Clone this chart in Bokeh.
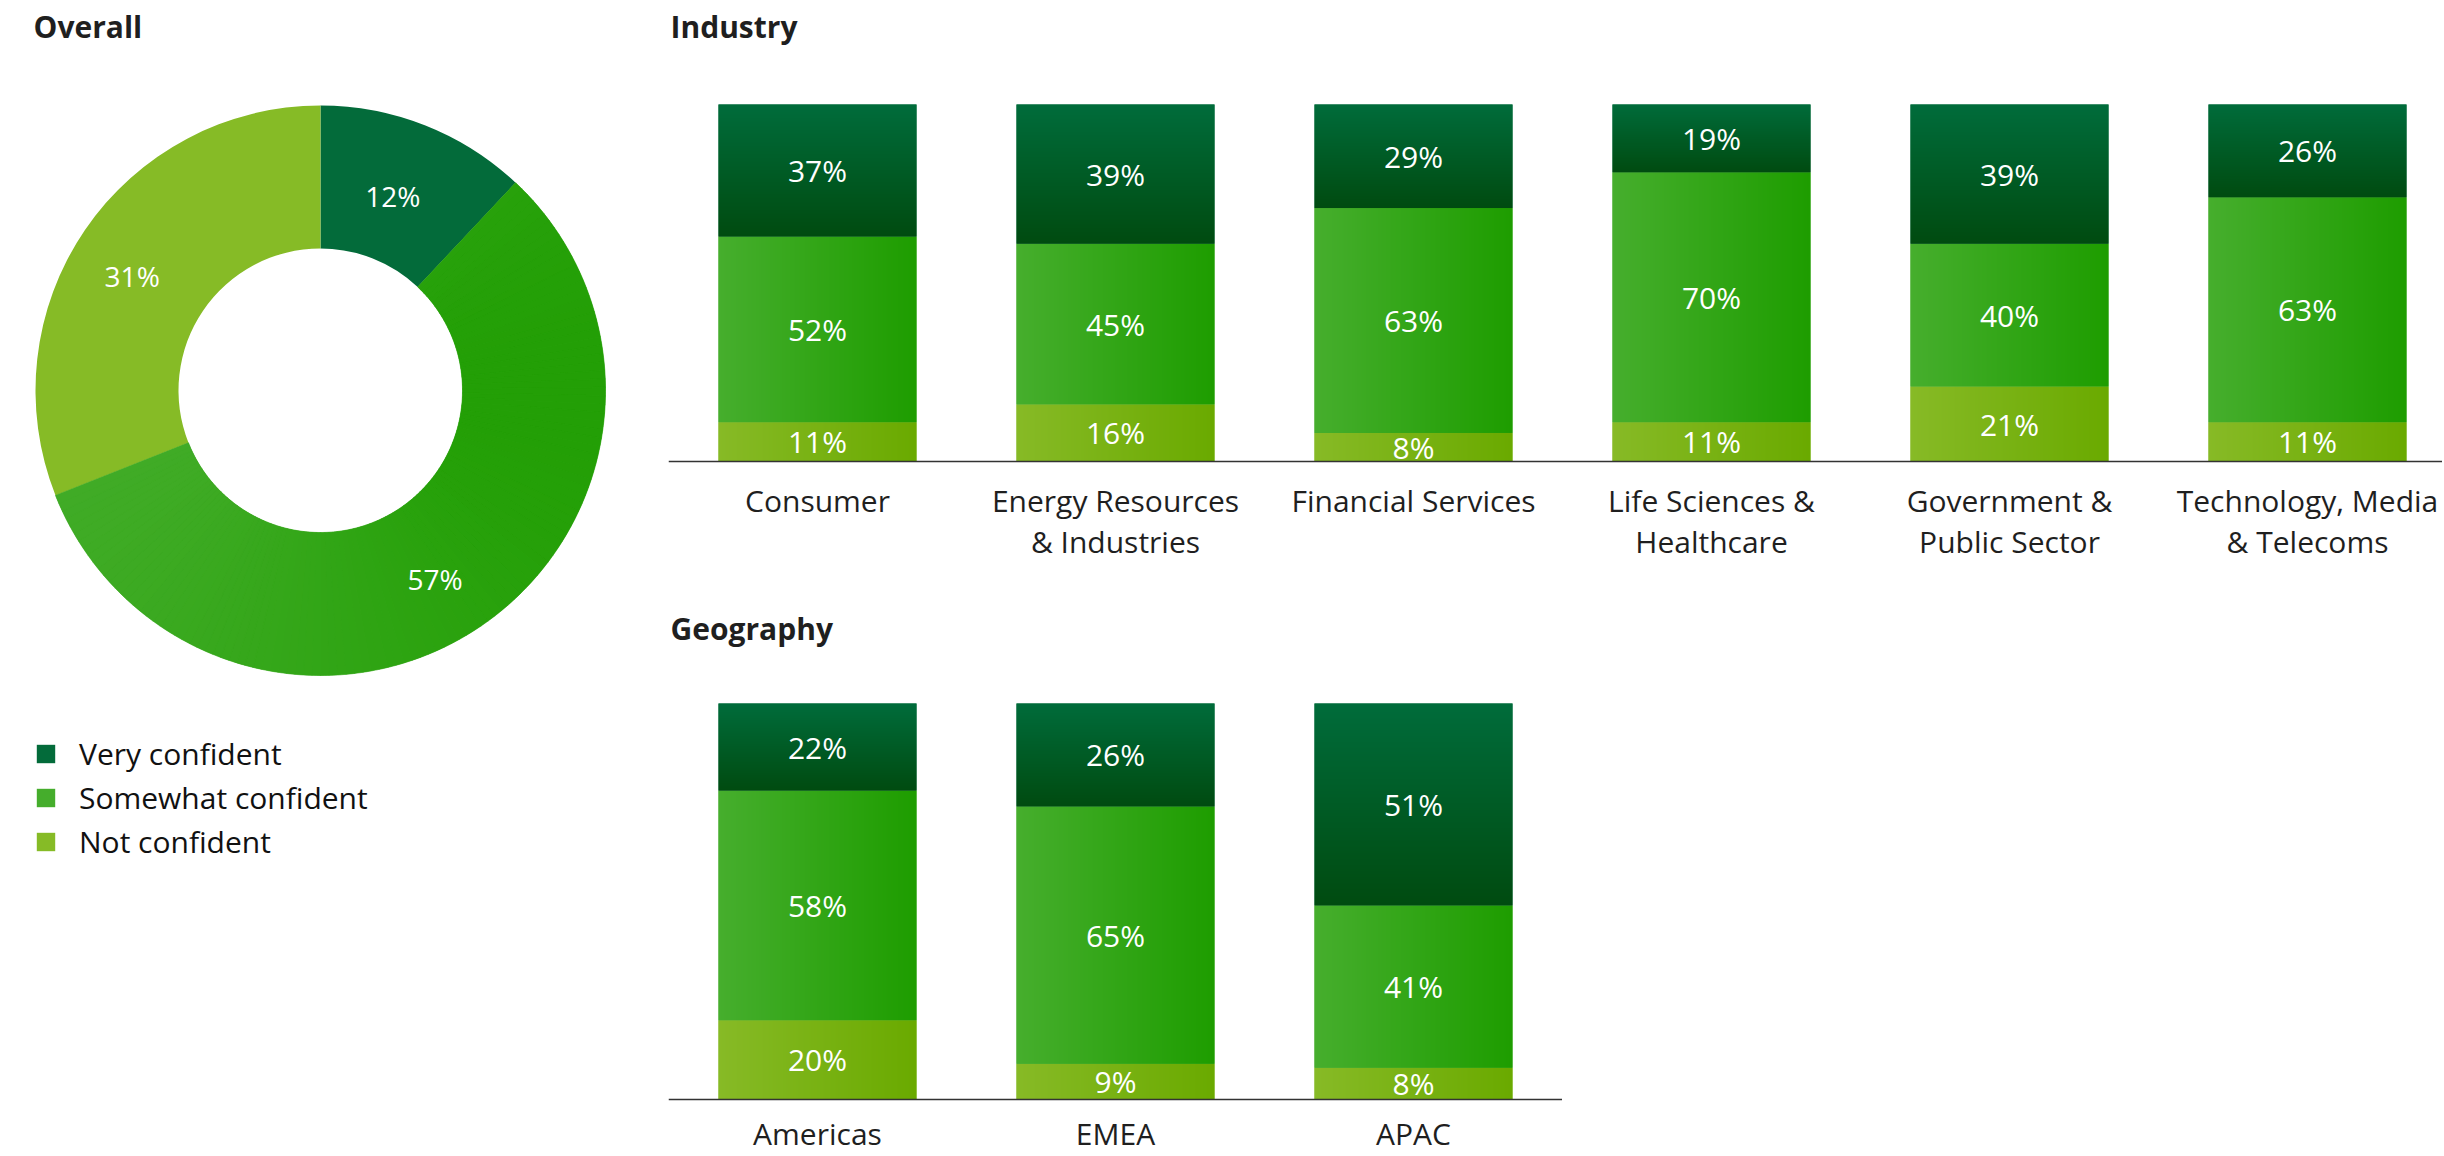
import numpy as np
from bokeh.plotting import figure
from bokeh.layouts import row, column
from bokeh.models import Range1d, Label, Span, Legend, LegendItem, ColumnDataSource
from bokeh.core.properties import value
from bokeh.embed import file_html
from bokeh.resources import INLINE

# ---------------- data ----------------
levels = ["Very confident", "Somewhat confident", "Not confident"]
overall = [12, 57, 31]

industries = ["Consumer", "Energy Resources\n& Industries", "Financial Services",
              "Life Sciences &\nHealthcare", "Government &\nPublic Sector",
              "Technology, Media\n& Telecoms"]
ind_very = [37, 39, 29, 19, 39, 26]
ind_some = [52, 45, 63, 70, 40, 63]
ind_not = [11, 16, 8, 11, 21, 11]

regions = ["Americas", "EMEA", "APAC"]
geo_very = [22, 26, 51]
geo_some = [58, 65, 41]
geo_not = [20, 9, 8]

# ---------------- style ----------------
FONT = "Open Sans"
LEVEL_COLORS = ["#036B3A", "#45AD2C", "#86BB26"]       # legend / base fills
GRAD_VERY = ((0, 108, 59), (0, 75, 16))               # top -> bottom
GRAD_SOME = ((70, 174, 45), (30, 157, 0))             # left -> right
GRAD_NOT = ((135, 186, 38), (106, 170, 0))            # left -> right
TXT = "#1f1f1f"
H_TOTAL = 1156
W_LEFT = 668
W_RIGHT = 1774
SLOT = 298.0
BAR_W = 198 / SLOT


def lerp(c0, c1, t):
    return tuple(int(round(a + (b - a) * t)) for a, b in zip(c0, c1))


def to_hex(c):
    return "#%02x%02x%02x" % c


def grad_image(c0, c1, n, vertical):
    t = np.linspace(0, 1, n)
    rgba = np.zeros((n, 4), dtype=np.uint8)
    for k in range(3):
        rgba[:, k] = np.round(c0[k] + (c1[k] - c0[k]) * t)
    rgba[:, 3] = 255
    img = rgba.view(dtype=np.uint32).reshape(n)
    return img.reshape((n, 1)) if vertical else img.reshape((1, n))


def base_fig(w, h, xr, yr):
    p = figure(width=w, height=h, x_range=xr, y_range=yr, output_backend="svg",
               toolbar_location=None, x_axis_location=None, y_axis_location=None,
               min_border=0)
    p.grid.visible = False
    p.outline_line_color = None
    p.background_fill_color = "white"
    return p


# ---------------- donut ----------------
cx_px, cy_px = 320, 390
R_OUT, R_IN = 285, 142
pL = base_fig(W_LEFT, H_TOTAL, Range1d(-cx_px, W_LEFT - cx_px),
              Range1d(-(H_TOTAL - cy_px), cy_px))
frac = np.array(overall) / 100.0
cum = np.concatenate([[0.0], np.cumsum(frac)])
start = np.pi / 2 - 2 * np.pi * cum[:-1]
end = np.pi / 2 - 2 * np.pi * cum[1:]
dsrc = ColumnDataSource(dict(start=start, end=end, color=LEVEL_COLORS, label=levels))
wedges = pL.annular_wedge(x=0, y=0, inner_radius=R_IN, outer_radius=R_OUT,
                          start_angle="start", end_angle="end", direction="clock",
                          fill_color="color", line_color=None, source=dsrc)
# horizontal gradient shading of the "somewhat" slice
K = 120
a = np.linspace(start[1], end[1], K + 1)
am = (a[:-1] + a[1:]) / 2
xm = (R_IN + R_OUT) / 2 * np.cos(am)
gcols = [to_hex(lerp(GRAD_SOME[0], GRAD_SOME[1], (x + R_OUT) / (2 * R_OUT))) for x in xm]
pL.annular_wedge(x=0, y=0, inner_radius=R_IN, outer_radius=R_OUT,
                 start_angle=a[:-1], end_angle=a[1:], direction="clock",
                 fill_color=gcols, line_color=gcols, line_width=0.6)
mid = (start + end) / 2
r_lab = 218
pL.text(x=r_lab * np.cos(mid), y=r_lab * np.sin(mid), text=[f"{v}%" for v in overall],
        x_offset=-8, y_offset=8,
        text_align="center", text_baseline="middle", text_color="white",
        text_font=value(FONT), text_font_size="28px")
pL.add_layout(Label(x=33, y=H_TOTAL - 26, x_units="screen", y_units="screen",
                    text="Overall", text_font=FONT, text_font_size="30px",
                    text_font_style="bold", text_baseline="middle", text_color=TXT))
legend = Legend(items=[LegendItem(label=lv, renderers=[wedges], index=i)
                       for i, lv in enumerate(levels)],
                location=(34, H_TOTAL - 862), glyph_width=23, glyph_height=23,
                label_text_font=FONT, label_text_font_size="30px",
                label_text_color="#111111", label_standoff=22, spacing=3,
                padding=0, margin=0, border_line_color=None,
                background_fill_alpha=0)
pL.add_layout(legend)


# ---------------- stacked bars ----------------
def bar_panel(cats, very, some, notc, width, height, title, top_px, base_px, fig_top,
              lab_off, title_y):
    n = len(cats)
    scale = (base_px - top_px) / 100.0
    y_top = 100 + (top_px - fig_top) / scale
    y_bot = -(fig_top + height - base_px) / scale
    p = base_fig(width, height, Range1d(-0.5, -0.5 + width / SLOT), Range1d(y_bot, y_top))
    x = list(range(n))
    src = ColumnDataSource(dict(x=x, notc=notc, some=some, very=very))
    p.vbar_stack(["notc", "some", "very"], x="x", width=BAR_W, source=src,
                 color=[LEVEL_COLORS[2], LEVEL_COLORS[1], LEVEL_COLORS[0]],
                 line_color=None)
    # gradient shading of each segment + value labels
    imgs, ix, iy, idw, idh = [], [], [], [], []
    lx, ly, lt = [], [], []
    for i in range(n):
        b = 0
        for v, g, vert in ((notc[i], GRAD_NOT, False), (some[i], GRAD_SOME, False),
                           (very[i], (GRAD_VERY[1], GRAD_VERY[0]), True)):
            imgs.append(grad_image(g[0], g[1], 256 if vert else 200, vert))
            ix.append(i - BAR_W / 2)
            iy.append(b)
            idw.append(BAR_W)
            idh.append(v)
            lx.append(i)
            ly.append(b + v / 2)
            lt.append(f"{v}%")
            b += v
    p.image_rgba(image=imgs, x=ix, y=iy, dw=idw, dh=idh)
    p.text(x=lx, y=ly, text=lt, text_align="center", text_baseline="middle",
           text_color="white", text_font=value(FONT), text_font_size="30px")
    p.add_layout(Span(location=0, dimension="width", line_color="#333333",
                      line_width=1.5))
    # category labels (possibly two lines)
    l1 = [c.split("\n")[0] for c in cats]
    l2 = [c.split("\n")[1] if "\n" in c else "" for c in cats]
    p.text(x=x, y=[0] * n, text=l1, y_offset=lab_off, text_align="center",
           text_baseline="middle", text_color=TXT, text_font=value(FONT),
           text_font_size="30px")
    if any(l2):
        p.text(x=x, y=[0] * n, text=l2, y_offset=lab_off + 41, text_align="center",
               text_baseline="middle", text_color=TXT, text_font=value(FONT),
               text_font_size="30px")
    p.add_layout(Label(x=2, y=height - title_y, x_units="screen", y_units="screen",
                       text=title, text_font=FONT, text_font_size="30px",
                       text_font_style="bold", text_baseline="middle", text_color=TXT))
    return p


H1 = 600
H2 = H_TOTAL - H1
pI = bar_panel(industries, ind_very, ind_some, ind_not, W_RIGHT, H1, "Industry",
               top_px=104, base_px=461, fig_top=0, lab_off=39, title_y=26)
pG = bar_panel(regions, geo_very, geo_some, geo_not, int(3 * SLOT), H2,
               "Geography", top_px=703, base_px=1099, fig_top=H1, lab_off=34,
               title_y=28)

layout = row(pL, column(pI, pG))
open("out.html", "w").write(file_html(layout, INLINE))
